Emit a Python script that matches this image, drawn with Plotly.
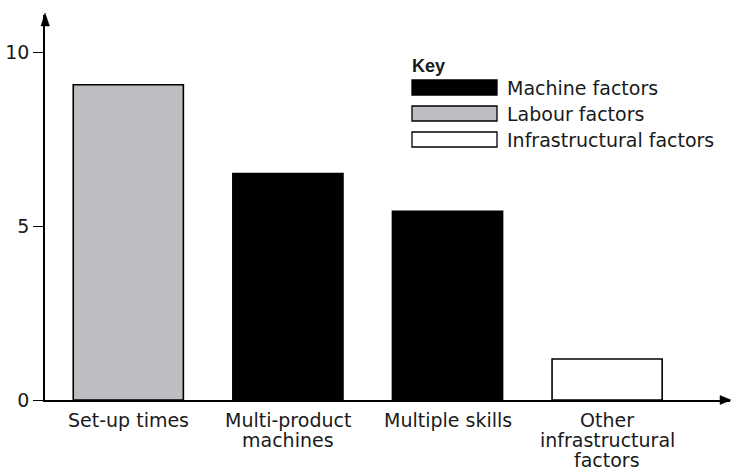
import plotly.graph_objects as go

categories = ["Set-up times", "Multi-product\nmachines", "Multiple skills", "Other\ninfrastructural\nfactors"]
values = [9.07, 6.52, 5.43, 1.18]
factor_type = ["Labour factors", "Machine factors", "Machine factors", "Infrastructural factors"]
key_labels = ["Machine factors", "Labour factors", "Infrastructural factors"]
key_colors = {"Machine factors": "#000000", "Labour factors": "#bebec2", "Infrastructural factors": "#ffffff"}
y_ticks = [0, 5, 10]

FONT = "DejaVu Sans"
TXT = "#1a1a1a"

x_pos = list(range(len(categories)))
fig = go.Figure()
fig.add_trace(go.Bar(
    x=x_pos, y=values, width=0.69,
    marker=dict(color=[key_colors[t] for t in factor_type], line=dict(color="#000", width=1.6)),
    showlegend=False, hoverinfo="skip",
))

# plot area pixels: left 45, right 730, top 15, bottom 400
L, R, T, B = 45, 730, 15, 400
W, H = R - L, B - T
def px(x):
    return (x - L) / W
def py(y):
    return (B - y) / H

shapes = []
# arrow heads
shapes.append(dict(type="path", xref="paper", yref="paper",
                   path=f"M {px(41)} {py(26)} L {px(45)} {py(13)} L {px(49.5)} {py(26)} Z",
                   fillcolor="#000", line=dict(color="#000", width=0.5)))
shapes.append(dict(type="path", xref="paper", yref="paper",
                   path=f"M {px(720)} {py(395.5)} L {px(731)} {py(400)} L {px(720)} {py(404.5)} Z",
                   fillcolor="#000", line=dict(color="#000", width=0.5)))

annotations = [dict(text="<b>Key</b>", xref="paper", yref="paper", x=px(410), y=py(66),
                    xanchor="left", yanchor="middle", showarrow=False,
                    font=dict(family="Liberation Sans", size=18, color=TXT))]
row_tops = [80, 106, 132]
for lab, top in zip(key_labels, row_tops):
    shapes.append(dict(type="rect", xref="paper", yref="paper",
                       x0=px(412), x1=px(497), y0=py(top + 15), y1=py(top),
                       fillcolor=key_colors[lab], line=dict(color="#000", width=1.3)))
    annotations.append(dict(text=lab, xref="paper", yref="paper", x=px(505), y=py(top + 8),
                            xanchor="left", yanchor="middle", showarrow=False,
                            font=dict(family=FONT, size=19, color=TXT)))

# category labels, line by line (tight line spacing as in the reference)
line_centres = [420, 440, 460]
for xi, cat in zip(x_pos, categories):
    for k, line in enumerate(cat.split("\n")):
        annotations.append(dict(text=line, xref="x", yref="paper", x=xi, y=py(line_centres[k]),
                                xanchor="center", yanchor="middle", showarrow=False,
                                font=dict(family=FONT, size=19, color=TXT)))

fig.update_layout(
    width=732, height=470,
    margin=dict(l=L, r=732 - R, t=T, b=470 - B, autoexpand=False),
    paper_bgcolor="white", plot_bgcolor="white",
    font=dict(family=FONT, size=19, color=TXT),
    shapes=shapes, annotations=annotations,
    xaxis=dict(range=[-0.522, 3.770], tickvals=x_pos, showticklabels=False,
               showline=True, linecolor="#000", linewidth=1.5, ticks="",
               showgrid=False, zeroline=False, fixedrange=True, automargin=False),
    yaxis=dict(range=[0, (B - T) / 34.75], tickvals=y_ticks, ticks="outside", ticklen=10,
               tickwidth=1.2, tickcolor="#000", showline=True, linecolor="#000", linewidth=1.5,
               showgrid=False, zeroline=False, fixedrange=True, automargin=False),
)
fig.write_html("out.html", config={"displayModeBar": False},
               post_script="document.body.style.margin='0';document.body.style.overflow='hidden';")
